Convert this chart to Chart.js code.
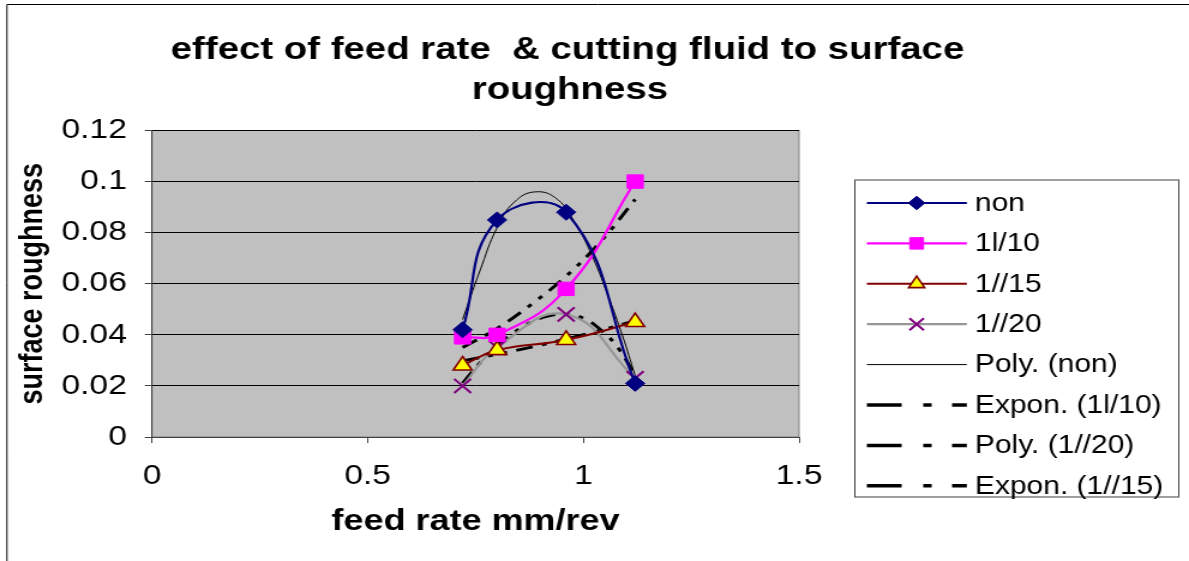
<!DOCTYPE html>
<html>
<head>
<meta charset="utf-8">
<title>effect of feed rate & cutting fluid to surface roughness</title>
<script src="https://cdn.jsdelivr.net/npm/chart.js@4.4.0/dist/chart.umd.min.js"></script>
<style>
  html, body { margin: 0; padding: 0; background: #fff; }
</style>
</head>
<body>
<!-- the reference is a horizontally stretched Excel picture, so the canvas is too -->
<canvas id="chart" width="991" height="561" style="display:block;width:1189px;height:561px"></canvas>
<script>
// measured values (feed rate mm/rev -> surface roughness)
const feedRate = [0.72, 0.8, 0.96, 1.12];
const nonFluid = [0.042, 0.085, 0.088, 0.021];
const fluid10 = [0.039, 0.040, 0.058, 0.100];
const fluid15 = [0.028, 0.034, 0.038, 0.045];
const fluid20 = [0.020, 0.035, 0.048, 0.023];

// trendlines
const polyNonX = [0.72, 0.76, 0.8, 0.84, 0.89, 0.94, 0.98, 1.02, 1.06, 1.09, 1.12];
const polyNonY = [0.046, 0.065, 0.082, 0.092, 0.096, 0.093, 0.084, 0.071, 0.054, 0.040, 0.024];
const expon10X = [0.72, 0.8, 0.88, 0.96, 1.04, 1.12];
const expon10Y = [0.035, 0.0425, 0.052, 0.063, 0.0765, 0.093];
const poly20X = [0.72, 0.76, 0.8, 0.84, 0.88, 0.92, 0.96, 1.0, 1.04, 1.08, 1.12];
const poly20Y = [0.021, 0.029, 0.036, 0.041, 0.045, 0.0475, 0.048, 0.0465, 0.042, 0.035, 0.024];
const expon15X = [0.72, 0.8, 0.88, 0.96, 1.04, 1.12];
const expon15Y = [0.0298, 0.0324, 0.0352, 0.0384, 0.0418, 0.0455];

// axis ticks
const xTicks = [0, 0.5, 1, 1.5];
const xTickLabels = ['0', '0.5', '1', '1.5'];
const yTicks = [0, 0.02, 0.04, 0.06, 0.08, 0.1, 0.12];
const yTickLabels = ['0', '0.02', '0.04', '0.06', '0.08', '0.1', '0.12'];

const FONT = "'Liberation Sans', Arial, sans-serif";
const toPoints = (xs, ys) => xs.map((x, i) => ({ x: x, y: ys[i] }));
const trendDash = [14, 8, 4, 8, 4, 8];
const legendTrendDash = [29, 18, 7, 17, 13];

const datasets = [
    { label: 'non', data: toPoints(feedRate, nonFluid), borderColor: '#000080', backgroundColor: '#000080',
      borderWidth: 2.2, pointStyle: 'rectRot', pointRadius: 8, pointBorderWidth: 1 },
    { label: '1l/10', data: toPoints(feedRate, fluid10), borderColor: '#FF00FF', backgroundColor: '#FF00FF',
      borderWidth: 2.2, pointStyle: 'rect', pointRadius: 9.5, pointBorderWidth: 1 },
    { label: '1//15', data: toPoints(feedRate, fluid15), borderColor: '#800000', backgroundColor: '#FFFF00',
      pointBorderColor: '#800000', borderWidth: 2, pointStyle: 'triangle', pointRadius: 9, pointBorderWidth: 1.6 },
    { label: '1//20', data: toPoints(feedRate, fluid20), borderColor: '#969696', backgroundColor: '#800080',
      pointBorderColor: '#800080', borderWidth: 2.2, pointStyle: 'crossRot', pointRadius: 10, pointBorderWidth: 2 },
    { label: 'Poly. (non)', data: toPoints(polyNonX, polyNonY), borderColor: '#000000',
      borderWidth: 1, pointRadius: 0 },
    { label: 'Expon. (1l/10)', data: toPoints(expon10X, expon10Y), borderColor: '#000000',
      borderWidth: 3, borderDash: trendDash, pointRadius: 0, legendDash: legendTrendDash },
    { label: 'Poly. (1//20)', data: toPoints(poly20X, poly20Y), borderColor: '#000000',
      borderWidth: 3, borderDash: trendDash, pointRadius: 0, legendDash: legendTrendDash },
    { label: 'Expon. (1//15)', data: toPoints(expon15X, expon15Y), borderColor: '#000000',
      borderWidth: 3, borderDash: trendDash, pointRadius: 0, legendDash: legendTrendDash }
];

// gray plot area, outer frame
const plotArea = {
    id: 'plotArea',
    beforeDraw(chart) {
        const { ctx, chartArea: a } = chart;
        ctx.save();
        ctx.fillStyle = '#C0C0C0';
        ctx.fillRect(a.left, a.top, a.right - a.left, a.bottom - a.top);
        ctx.strokeStyle = '#808080';
        ctx.lineWidth = 1;
        ctx.strokeRect(a.left, a.top, a.right - a.left, a.bottom - a.top);
        // chart border (only top and left are in the picture)
        ctx.strokeStyle = '#000';
        ctx.beginPath();
        ctx.moveTo(5.8, chart.height);
        ctx.lineTo(5.8, 4.5);
        ctx.lineTo(chart.width, 4.5);
        ctx.stroke();
        ctx.restore();
    }
};

// two line title
const chartTitle = {
    id: 'chartTitle',
    afterDraw(chart) {
        const ctx = chart.ctx;
        ctx.save();
        ctx.fillStyle = '#000';
        ctx.font = 'bold 32px ' + FONT;
        ctx.textAlign = 'center';
        ctx.textBaseline = 'alphabetic';
        ctx.fillText('effect of feed rate  & cutting fluid to surface', 473, 59);
        ctx.fillText('roughness', 475, 98.5);
        ctx.restore();
    }
};

// Excel-like legend: line with marker in the middle
const legendBox = {
    id: 'legendBox',
    afterDraw(chart) {
        const ctx = chart.ctx;
        const box = { left: 712.5, top: 180, right: 982.5, bottom: 497 };
        ctx.save();
        ctx.fillStyle = '#fff';
        ctx.fillRect(box.left, box.top, box.right - box.left, box.bottom - box.top);
        ctx.strokeStyle = '#404040';
        ctx.lineWidth = 1;
        ctx.strokeRect(box.left, box.top, box.right - box.left, box.bottom - box.top);

        chart.data.datasets.forEach((ds, i) => {
            const y = 203 + i * 40.4;
            ctx.save();
            ctx.strokeStyle = ds.borderColor;
            ctx.lineWidth = ds.legendDash ? 3.5 : ds.borderWidth;
            ctx.setLineDash(ds.legendDash || []);
            ctx.beginPath();
            ctx.moveTo(722.5, y);
            ctx.lineTo(805.8, y);
            ctx.stroke();
            ctx.restore();

            if (ds.pointRadius > 0) {
                ctx.save();
                ctx.fillStyle = ds.backgroundColor;
                ctx.strokeStyle = ds.pointBorderColor || ds.borderColor;
                ctx.lineWidth = ds.pointBorderWidth;
                Chart.helpers.drawPoint(ctx, {
                    pointStyle: ds.pointStyle,
                    radius: ds.pointRadius * 0.85,
                    borderWidth: ds.pointBorderWidth,
                    rotation: 0
                }, 764, y);
                ctx.restore();
            }

            ctx.fillStyle = '#000';
            ctx.font = '25px ' + FONT;
            ctx.textAlign = 'left';
            ctx.textBaseline = 'middle';
            ctx.fillText(ds.label, 812.5, y + 1);
        });
        ctx.restore();
    }
};

new Chart(document.getElementById('chart'), {
    type: 'line',
    data: { datasets: datasets },
    options: {
        responsive: false,
        animation: false,
        devicePixelRatio: 1,
        layout: { padding: { left: 0, right: 325, top: 130.5, bottom: 0 } },
        elements: { line: { tension: 0.45 } },
        plugins: {
            legend: { display: false },
            title: { display: false },
            tooltip: { enabled: false }
        },
        scales: {
            x: {
                type: 'linear',
                min: 0,
                max: 1.5,
                afterBuildTicks: scale => { scale.ticks = xTicks.map(v => ({ value: v })); },
                afterFit: scale => { scale.height = 124; },
                ticks: {
                    callback: (v, i) => xTickLabels[i],
                    color: '#000',
                    padding: 16,
                    maxRotation: 0,
                    font: { family: FONT, size: 28 }
                },
                grid: { drawOnChartArea: false, drawTicks: true, tickLength: 6, tickColor: '#404040' },
                border: { color: '#404040', width: 1 },
                title: {
                    display: true,
                    text: 'feed rate mm/rev',
                    color: '#000',
                    font: { family: FONT, size: 30, weight: 'bold' },
                    padding: { top: 0, bottom: 21 }
                }
            },
            y: {
                type: 'linear',
                min: 0,
                max: 0.12,
                afterBuildTicks: scale => { scale.ticks = yTicks.map(v => ({ value: v })); },
                afterFit: scale => { scale.width = 126.7; },
                ticks: {
                    callback: (v, i) => yTickLabels[i],
                    color: '#000',
                    padding: 15,
                    font: { family: FONT, size: 28 }
                },
                grid: { color: '#000', lineWidth: 1, drawTicks: true, tickLength: 6, tickColor: '#404040' },
                border: { color: '#404040', width: 1 },
                title: {
                    display: true,
                    text: 'surface roughness',
                    color: '#000',
                    font: { family: FONT, size: 27, weight: 'bold' },
                    padding: { top: 11, bottom: 0 }
                }
            }
        }
    },
    plugins: [plotArea, chartTitle, legendBox]
});
</script>
</body>
</html>
